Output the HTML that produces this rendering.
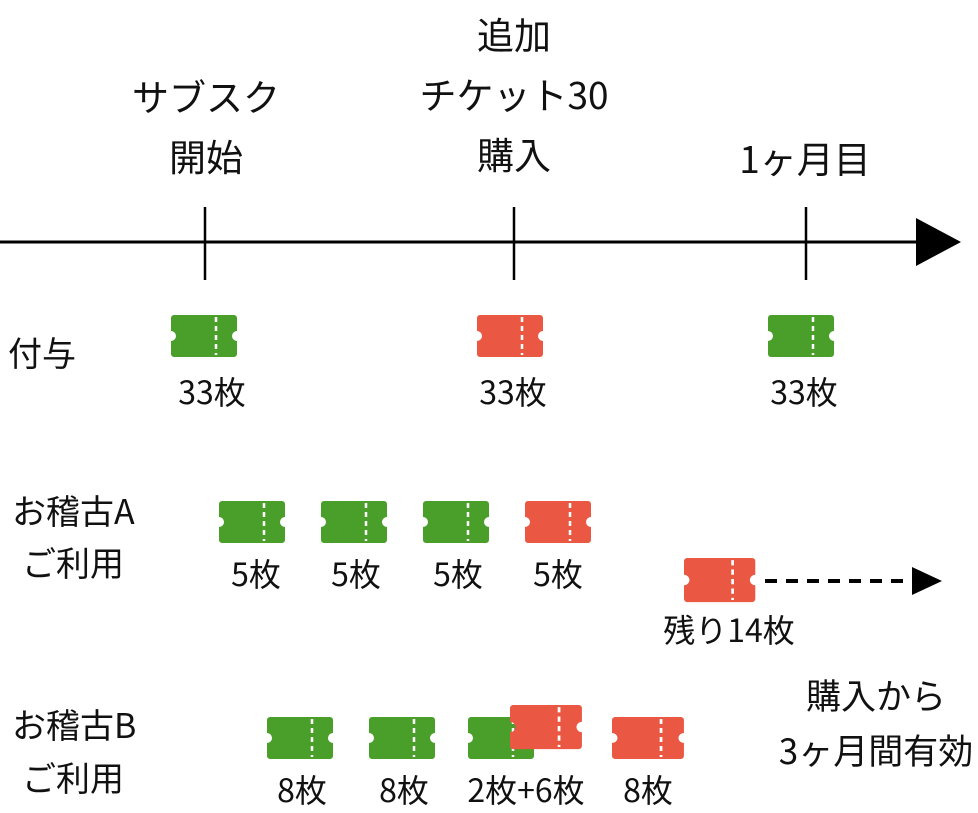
<!DOCTYPE html>
<html><head><meta charset="utf-8"><style>body{margin:0;background:#fff}svg{display:block}text{font-family:"Noto Sans CJK JP","Liberation Sans",sans-serif;fill:#111}</style></head><body>
<svg width="978" height="813" viewBox="0 0 978 813" xmlns="http://www.w3.org/2000/svg">
<defs>
<g id="tk"><path d="M3,0 H63 a3,3 0 0 1 3,3 V16 a5,5 0 0 0 0,10 V39 a3,3 0 0 1 -3,3 H3 a3,3 0 0 1 -3,-3 V26 a5,5 0 0 0 0,-10 V3 a3,3 0 0 1 3,-3Z"/><line x1="45" y1="2" x2="45" y2="40" stroke="#fff" stroke-width="2.5" stroke-dasharray="5,4"/></g>
</defs>
<g font-size="37" text-anchor="middle">
<text x="206" y="111">サブスク</text><text x="206" y="171">開始</text>
<text x="514" y="49">追加</text><text x="514" y="109">チケット30</text><text x="514" y="169">購入</text>
<text x="805" y="173">1ヶ月目</text>
</g>
<line x1="0" y1="242" x2="920" y2="242" stroke="#000" stroke-width="3"/>
<line x1="205" y1="207" x2="205" y2="280" stroke="#000" stroke-width="2.5"/>
<line x1="514" y1="207" x2="514" y2="280" stroke="#000" stroke-width="2.5"/>
<line x1="806" y1="207" x2="806" y2="280" stroke="#000" stroke-width="2.5"/>
<polygon points="916,218 961,242 916,266" fill="#000"/>
<g font-size="34">
<text x="8" y="366">付与</text>
<text x="12" y="524">お稽古A</text><text x="22" y="576">ご利用</text>
<text x="12" y="738">お稽古B</text><text x="22" y="791">ご利用</text>
</g>
<g fill="#4a9e2a">
<use href="#tk" x="171" y="315"/><use href="#tk" x="768" y="315"/>
<use href="#tk" x="219" y="501"/><use href="#tk" x="321" y="501"/><use href="#tk" x="423" y="501"/>
<use href="#tk" x="267" y="717"/><use href="#tk" x="369" y="717"/><use href="#tk" x="468" y="717"/>
</g>
<g fill="#ea5843">
<use href="#tk" x="477" y="315"/><use href="#tk" x="525" y="501"/>
<use href="#tk" transform="translate(684,558) scale(1.08,1.05)"/>
<use href="#tk" transform="translate(510,705) scale(1.09,1.05)"/>
<use href="#tk" transform="translate(612,717) scale(1.09,1.0)"/>
</g>
<line x1="765" y1="581" x2="912" y2="581" stroke="#000" stroke-width="4" stroke-dasharray="12,9"/>
<polygon points="912,567 942,581 912,595" fill="#000"/>
<g font-size="32" text-anchor="middle">
<text x="212" y="404">33枚</text><text x="513" y="404">33枚</text><text x="804" y="404">33枚</text>
<text x="256" y="586">5枚</text><text x="356" y="586">5枚</text><text x="458" y="586">5枚</text><text x="558" y="586">5枚</text>
<text x="729" y="642">残り14枚</text>
<text x="302" y="802">8枚</text><text x="404" y="802">8枚</text><text x="526" y="802">2枚+6枚</text><text x="648" y="802">8枚</text>
</g>
<g font-size="35" text-anchor="middle">
<text x="876" y="709">購入から</text><text x="876" y="764">3ヶ月間有効</text>
</g>
</svg>
</body></html>
